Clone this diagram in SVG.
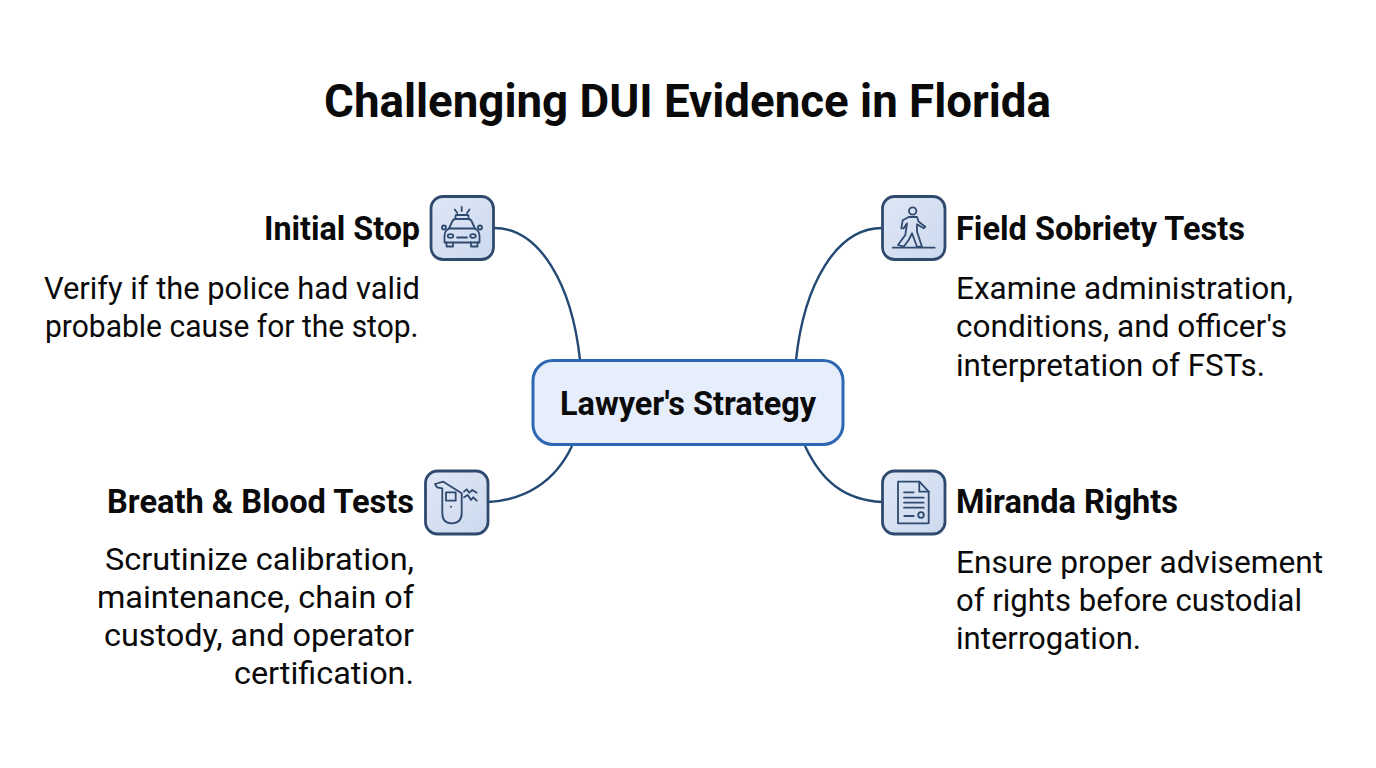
<svg xmlns="http://www.w3.org/2000/svg" width="1376" height="768" viewBox="0 0 1376 768">
<defs>
<linearGradient id="tile" x1="0" y1="0" x2="1" y2="1"><stop offset="0" stop-color="#dfe7f6"/><stop offset="1" stop-color="#ccd9ee"/></linearGradient>
</defs>
<style>
text{font-family:Roboto,"Liberation Sans",sans-serif;fill:#0a0a0a}
.title{font-size:46px;font-weight:700}
.h{font-size:33px;font-weight:700}
.b{font-size:32px;font-weight:400}
.tile{fill:url(#tile);stroke:#2f4a6e;stroke-width:2.800}
.ic{fill:none;stroke:#2f4a6e;stroke-width:1.800;stroke-linecap:round;stroke-linejoin:round}
.c{fill:none;stroke:#234a75;stroke-width:2.400}
</style>
<rect width="1376" height="768" fill="#ffffff"/>
<text class="title" x="324" y="117" textLength="727" lengthAdjust="spacingAndGlyphs">Challenging DUI Evidence in Florida</text>
<g id="connectors">
<path class="c" d="M494 228C540 228 572 285 580 360"/>
<path class="c" d="M882 228C836 228 804 285 796 360"/>
<path class="c" d="M488 502C525 500 555 482 572 446"/>
<path class="c" d="M882 502C845 500 822 482 805 446"/>
</g>
<g id="center">
<rect x="533" y="360.500" width="310" height="84" rx="20" fill="#e6edfb" stroke="#2e67b1" stroke-width="3"/>
<text x="560" y="414.500" font-size="33" font-weight="700" textLength="256" lengthAdjust="spacingAndGlyphs">Lawyer's Strategy</text>
</g>
<g id="initial-stop">
<rect class="tile" x="431" y="196.500" width="62.500" height="63" rx="12"/>
<path class="ic" d="M461.700 207V211M454.800 209.500L457.300 213M469.500 209.500L467 213"/>
<rect class="ic" x="455.500" y="215" width="13" height="4" rx="1"/>
<path class="ic" d="M449 228.500L452.500 221Q453.500 219 455.500 219H468.500Q470.500 219 471.500 221L475 228.500"/>
<path class="ic" d="M449 228.500H475Q479.500 231 479.500 236V242.500H444.500V236Q444.500 231 449 228.500Z"/>
<path class="ic" d="M446.500 242.500V246.500H453V242.500M471 242.500V246.500H477.500V242.500"/>
<circle class="ic" cx="444" cy="227.500" r="2"/>
<circle class="ic" cx="480" cy="227.500" r="2"/>
<ellipse class="ic" cx="450.500" cy="236" rx="2.800" ry="1.900"/>
<ellipse class="ic" cx="473" cy="236" rx="2.800" ry="1.900"/>
<path class="ic" d="M457 237.500H467"/>
<text class="h" x="264" y="240" textLength="156" lengthAdjust="spacingAndGlyphs">Initial Stop</text>
<text class="b" x="44" y="299" textLength="376" lengthAdjust="spacingAndGlyphs">Verify if the police had valid</text>
<text class="b" x="45" y="337" textLength="373.500" lengthAdjust="spacingAndGlyphs">probable cause for the stop.</text>
</g>
<g id="field-sobriety">
<rect class="tile" x="882.500" y="196.500" width="62.500" height="63" rx="12"/>
<circle class="ic" cx="912.700" cy="211" r="3.700"/>
<path class="ic" d="M892.700 247.700H934.700"/>
<path class="ic" d="M908.700 217H917L918.700 221.700L925.300 226.700L923.700 228.300L917 224.300V231.700L922 246.700H917L912 233.300L908.700 240L903.700 246.700L898 245L905.300 235L907 223.300L903.700 228.300L901.300 228.300L902.700 220.300Z"/>
<text class="h" x="956" y="240" textLength="289" lengthAdjust="spacingAndGlyphs">Field Sobriety Tests</text>
<text class="b" x="956" y="299" textLength="337" lengthAdjust="spacingAndGlyphs">Examine administration,</text>
<text class="b" x="956" y="337" textLength="331" lengthAdjust="spacingAndGlyphs">conditions, and officer's</text>
<text class="b" x="956" y="376" textLength="309" lengthAdjust="spacingAndGlyphs">interpretation of FSTs.</text>
</g>
<g id="breath-blood">
<rect class="tile" x="425.500" y="471" width="62.500" height="63" rx="12"/>
<path class="ic" d="M442.300 488.300V513Q442.300 523.300 451.700 523.300Q461.700 523.300 461.700 513V493.300L443.300 481.700L435 484L437 487.300Z"/>
<rect class="ic" x="446" y="492.300" width="9.700" height="8.300"/>
<circle cx="451" cy="506.700" r="1" fill="#2f4a6e"/>
<path class="ic" d="M464 491.700L466.700 489.300L469.300 492.700L472.300 490L476.700 492.700M464 497.300L467.700 495L471 500L473.300 497.300L476.700 500.700"/>
<text class="h" x="107" y="513" textLength="307" lengthAdjust="spacingAndGlyphs">Breath &amp; Blood Tests</text>
<text class="b" x="105" y="570" textLength="309" lengthAdjust="spacingAndGlyphs">Scrutinize calibration,</text>
<text class="b" x="97" y="608" textLength="317" lengthAdjust="spacingAndGlyphs">maintenance, chain of</text>
<text class="b" x="104" y="646" textLength="310" lengthAdjust="spacingAndGlyphs">custody, and operator</text>
<text class="b" x="234" y="683.500" textLength="180" lengthAdjust="spacingAndGlyphs">certification.</text>
</g>
<g id="miranda">
<rect class="tile" x="882.500" y="471" width="62.500" height="63" rx="12"/>
<path class="ic" d="M898 481.700H919.300L928.700 491.700V523.300H898Z"/>
<path class="ic" d="M919.300 481.700V491.700H928.700"/>
<path class="ic" d="M904 492.300H913.700M904 497.700H923.700M904 502.700H923.700M904 507.700H923.700M904.300 516H913.700"/>
<circle class="ic" cx="921" cy="515" r="2.800"/>
<text class="h" x="956" y="513" textLength="222" lengthAdjust="spacingAndGlyphs">Miranda Rights</text>
<text class="b" x="956" y="573" textLength="367" lengthAdjust="spacingAndGlyphs">Ensure proper advisement</text>
<text class="b" x="956" y="611" textLength="346" lengthAdjust="spacingAndGlyphs">of rights before custodial</text>
<text class="b" x="956" y="649" textLength="185" lengthAdjust="spacingAndGlyphs">interrogation.</text>
</g>
</svg>
